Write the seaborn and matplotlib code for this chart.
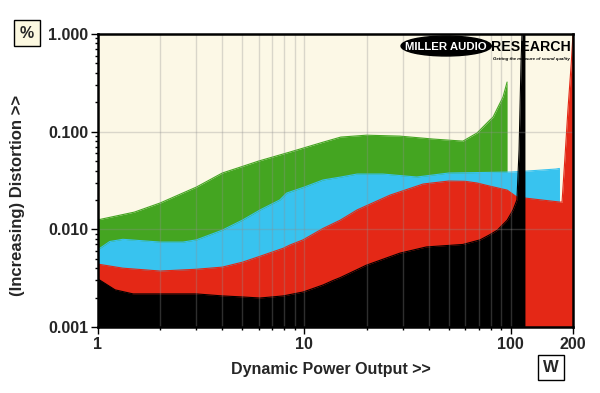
import matplotlib
matplotlib.use("Agg")
import matplotlib.pyplot as plt
from matplotlib.patches import Ellipse
from matplotlib.ticker import LogLocator, NullFormatter
import seaborn as sns

# power (W) and distortion (%), one pair of lists per layer
green_w = [1, 1.5, 2, 3, 4, 5, 6, 8.5, 12.3, 15, 20, 29, 42, 58.6, 68.6, 79, 82, 91.6, 95.9]
green_pct = [0.0125, 0.0150, 0.0186, 0.0271, 0.0377, 0.044, 0.050, 0.0618, 0.078, 0.088,
             0.092, 0.090, 0.084, 0.080, 0.097, 0.131, 0.141, 0.226, 0.322]

blue_w = [1, 1.14, 1.32, 2, 2.58, 3, 4, 5, 6.1, 7.6, 8.2, 10, 12.3, 15, 18, 24, 35, 50,
          100, 120, 165, 172]
blue_pct = [0.0062, 0.0075, 0.0079, 0.0074, 0.0074, 0.0078, 0.0098, 0.0124, 0.0158, 0.020,
            0.0235, 0.0271, 0.032, 0.0343, 0.0368, 0.0368, 0.0343, 0.0377, 0.0386, 0.0395,
            0.0414, 0.042]

red_w = [1, 1.32, 2, 3, 4, 5, 6.1, 7.9, 8.5, 9.85, 12.3, 14.9, 18, 26, 37.6, 50, 60, 68.6,
         79, 96, 107, 117, 140, 173, 177, 183, 189, 196, 200]
red_pct = [0.0044, 0.0040, 0.00374, 0.0039, 0.0041, 0.0046, 0.0053, 0.0064, 0.0069, 0.0078,
           0.0102, 0.0124, 0.0158, 0.0224, 0.0291, 0.0312, 0.031, 0.0298, 0.0277, 0.0252,
           0.0214, 0.0209, 0.020, 0.019, 0.019, 0.056, 0.167, 0.49, 1.0]

black_w = [1, 1.21, 1.48, 2, 3, 4, 5, 6.1, 7.9, 9.85, 12.3, 13.8, 14.9, 20, 29, 39, 58.6,
           71, 79, 86, 96, 102.5, 107, 109.6, 112, 113.2, 117]
black_pct = [0.0031, 0.0024, 0.00218, 0.00218, 0.00218, 0.00208, 0.00203, 0.00198, 0.00208,
             0.00228, 0.00269, 0.0030, 0.0032, 0.0043, 0.0057, 0.0066, 0.0070, 0.0078, 0.0088,
             0.0098, 0.0124, 0.0158, 0.020, 0.065, 0.5, 1.0, 1.0]

x_ticks = [1, 10, 100, 200]
x_labels = ['1', '10', '100', '200']
y_ticks = [0.001, 0.01, 0.1, 1]
y_labels = ['0.001', '0.010', '0.100', '1.000']

sns.set_theme(style="ticks")
plt.rcParams['font.family'] = ['Liberation Sans', 'DejaVu Sans']

fig = plt.figure(figsize=(6, 3.93), dpi=100)
ax = fig.add_axes([0.1633, 0.168, 0.7917, 0.7455])
ax.set_facecolor('#fcf8e6')
ax.set_xscale('log')
ax.set_yscale('log')

layers = [(green_w, green_pct, '#44a521'),
          (blue_w, blue_pct, '#38c3ef'),
          (red_w, red_pct, '#e42816'),
          (black_w, black_pct, '#000000')]
for i, (w, pct, col) in enumerate(layers):
    z = 1 + 0.2 * i
    ax.fill_between(w, 0.001, pct, color=col, linewidth=0, zorder=z)
    sns.lineplot(x=w, y=pct, color=col, lw=0.8, ax=ax, zorder=z + 0.05)

ax.set_xlim(1, 200)
ax.set_ylim(0.001, 1)

ax.set_xticks(x_ticks)
ax.set_xticklabels(x_labels)
ax.xaxis.set_minor_locator(LogLocator(base=10, subs=range(2, 10)))
ax.xaxis.set_minor_formatter(NullFormatter())
ax.set_yticks(y_ticks)
ax.set_yticklabels(y_labels)
ax.yaxis.set_minor_locator(LogLocator(base=10, subs=range(2, 10)))
ax.yaxis.set_minor_formatter(NullFormatter())

# grid sits on top of the filled bands, faint
ax.set_axisbelow(False)
ax.grid(True, which='both', axis='x', color='#909090', alpha=0.32, lw=1)
ax.grid(True, which='major', axis='y', color='#909090', alpha=0.32, lw=1)

ax.tick_params(which='major', direction='out', length=5, width=1, color='black',
               labelsize=11.5, pad=2)
ax.tick_params(which='minor', direction='out', length=2.5, width=1, color='black')
for lab in ax.get_xticklabels() + ax.get_yticklabels():
    lab.set_fontweight('bold')
for sp in ax.spines.values():
    sp.set_visible(True)
    sp.set_linewidth(1.8)
    sp.set_color('black')
    sp.set_zorder(10)

ax.set_xlabel('Dynamic Power Output >>', fontsize=11.5, fontweight='bold', labelpad=8)
ax.xaxis.set_label_coords(0.49, -0.12)
ax.set_ylabel('(Increasing) Distortion >>', fontsize=12, fontweight='bold')
ax.yaxis.set_label_coords(-0.154, 0.45)

# logo
ax.add_patch(Ellipse((0.733, 0.959), 0.19, 0.068, transform=ax.transAxes,
                     color='black', zorder=20, clip_on=False))
ax.text(0.733, 0.957, 'MILLER AUDIO', transform=ax.transAxes, color='white',
        fontsize=8.2, fontweight='black', ha='center', va='center', zorder=21)
ax.text(0.828, 0.957, 'RESEARCH', transform=ax.transAxes, color='black',
        fontsize=10.2, fontweight='black', ha='left', va='center', zorder=21)
ax.text(0.993, 0.913, 'Getting the measure of sound quality', transform=ax.transAxes,
        color='black', fontsize=3.2, fontstyle='italic', fontweight='bold',
        ha='right', va='center', zorder=21)

# unit boxes
fig.text(27 / 600, 1 - 33 / 393, '%', fontsize=11.5, fontweight='bold', ha='center',
         va='center', bbox=dict(boxstyle='square,pad=0.35', fc='#fcf8e0', ec='black', lw=1))
fig.text(551 / 600, 1 - 367 / 393, 'W', fontsize=12, fontweight='bold', ha='center',
         va='center', bbox=dict(boxstyle='square,pad=0.3', fc='white', ec='black', lw=1))

fig.savefig('out.png', dpi=100)
